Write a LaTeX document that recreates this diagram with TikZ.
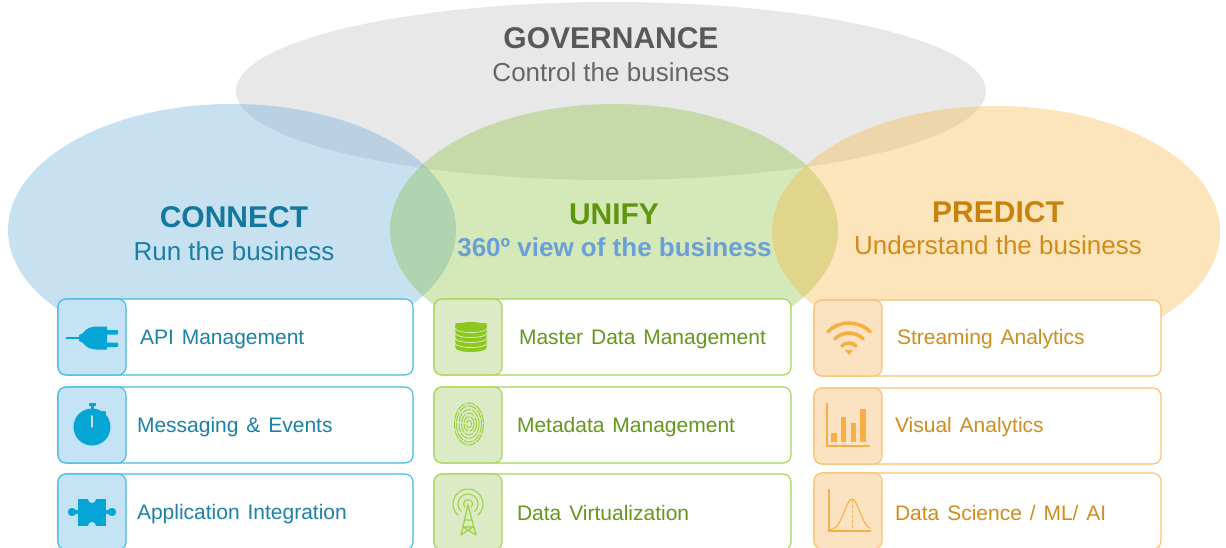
\documentclass[tikz,border=0pt]{standalone}
\usepackage{fontspec}
\setmainfont{Liberation Sans}
\newfontfamily\cardfont[WordSpace=1.35]{Liberation Sans}
\usetikzlibrary{shapes, positioning}

\definecolor{blueline}{HTML}{45B9DF}
\definecolor{bluetab}{HTML}{C4E3F5}
\definecolor{blueicon}{HTML}{05A5D6}
\definecolor{bluetext}{HTML}{1C81A6}
\definecolor{greenline}{HTML}{A5D555}
\definecolor{greentab}{HTML}{DCEBC6}
\definecolor{greenicon}{HTML}{8CC81E}
\definecolor{greentext}{HTML}{64971C}
\definecolor{orangeline}{HTML}{FBC06C}
\definecolor{orangetab}{HTML}{FBE3C2}
\definecolor{orangeicon}{HTML}{F6AE45}
\definecolor{orangetext}{HTML}{CF8D1E}
\definecolor{bubbleblue}{HTML}{58A4D5}
\definecolor{bubblegreen}{HTML}{80B928}
\definecolor{bubbleorange}{HTML}{F8B030}
\definecolor{conntitlecol}{HTML}{12789F}
\definecolor{connsubcol}{HTML}{1A7FA6}
\definecolor{unifytitlecol}{HTML}{5F960F}
\definecolor{unifysubcol}{HTML}{6A9FD8}
\definecolor{predtitlecol}{HTML}{C9820C}
\definecolor{predsubcol}{HTML}{D28B1A}

\tikzset{
  bubble/.style={ellipse, fill=#1, fill opacity=0.33, minimum width=448pt, minimum height=252pt, inner sep=0pt},
  card/.style={draw=#1, fill=white, rounded corners=8pt, line width=1.1pt, minimum height=76pt, inner sep=0pt},
  tab/.style={draw=#1, rounded corners=8pt, line width=1.1pt, minimum width=68pt, minimum height=76pt, inner sep=0pt, anchor=west},
  heading/.style={font=\fontsize{30}{36}\selectfont\bfseries},
  subheading/.style={font=\fontsize{26}{30}\selectfont},
  cardtext/.style={font=\cardfont\fontsize{21}{25}\selectfont, anchor=west, text=#1},
}

\begin{document}
\begin{tikzpicture}[x=1pt,y=-1pt]
  \useasboundingbox (0,0) rectangle (1226,548);
  \clip (0,0) rectangle (1226,548);

  % big ellipses
  \node[bubble={black!27}, minimum width=750pt, minimum height=178pt] (governance) at (611,91) {};
  \node[bubble=bubbleblue] (connect) at (232,230) {};
  \node[bubble=bubblegreen] (unify) at (614,230) {};
  \node[bubble=bubbleorange] (predict) at (996,232) {};

  \node[heading, text=black!65] (govtitle) at (611,38) {GOVERNANCE};
  \node[subheading, text=black!60] (govsub) at (611,72) {Control the business};
  \node[heading, text=conntitlecol] (conntitle) at (234,217) {CONNECT};
  \node[subheading, text=connsubcol] (connsub) at (234,251) {Run the business};
  \node[heading, text=unifytitlecol] (unifytitle) at (614,214) {UNIFY};
  \node[subheading, text=unifysubcol, font=\fontsize{26}{30}\selectfont\bfseries] (unifysub) at (614.5,247) {360º view of the business};
  \node[heading, text=predtitlecol] (predtitle) at (998,212) {PREDICT};
  \node[subheading, text=predsubcol] (predsub) at (998,245) {Understand the business};

  % connect column
  \node[card=blueline, minimum width=355pt] (api) at (235.5,337) {};
  \node[card=blueline, minimum width=355pt] (msg) at (235.5,425) {};
  \node[card=blueline, minimum width=355pt] (app) at (235.5,512) {};
  \node[tab=blueline, fill=bluetab] (apitab) at (api.west) {};
  \node[tab=blueline, fill=bluetab] (msgtab) at (msg.west) {};
  \node[tab=blueline, fill=bluetab] (apptab) at (app.west) {};
  \node[cardtext=bluetext] (apitext) at (136.5,339) {API Management};
  \node[cardtext=bluetext] (msgtext) at (133.5,427) {Messaging \& Events};
  \node[cardtext=bluetext] (apptext) at (133.5,514) {Application Integration};

  % unify column
  \node[card=greenline, minimum width=357pt] (mdm) at (612.5,337) {};
  \node[card=greenline, minimum width=357pt] (meta) at (612.5,425) {};
  \node[card=greenline, minimum width=357pt] (virt) at (612.5,512) {};
  \node[tab=greenline, fill=greentab] (mdmtab) at (mdm.west) {};
  \node[tab=greenline, fill=greentab] (metatab) at (meta.west) {};
  \node[tab=greenline, fill=greentab] (virttab) at (virt.west) {};
  \node[cardtext=greentext] (mdmtext) at (515.5,339) {Master Data Management};
  \node[cardtext=greentext] (metatext) at (513.5,427.5) {Metadata Management};
  \node[cardtext=greentext] (virttext) at (513.5,513) {Data Virtualization};

  % predict column
  \node[card=orangeline, minimum width=347pt] (stream) at (987.5,338) {};
  \node[card=orangeline, minimum width=347pt] (visual) at (987.5,426) {};
  \node[card=orangeline, minimum width=347pt] (science) at (987.5,511) {};
  \node[tab=orangeline, fill=orangetab] (streamtab) at (stream.west) {};
  \node[tab=orangeline, fill=orangetab] (visualtab) at (visual.west) {};
  \node[tab=orangeline, fill=orangetab] (sciencetab) at (science.west) {};
  \node[cardtext=orangetext] (streamtext) at (893.5,339.5) {Streaming Analytics};
  \node[cardtext=orangetext] (visualtext) at (891.5,427.5) {Visual Analytics};
  \node[cardtext=orangetext] (sciencetext) at (891.5,512.5) {Data Science / ML/ AI};

  % plug
  \draw[blueicon, line width=2.8pt] (66,338) -- (82,338);
  \fill[blueicon] (79,335) .. controls (84,335) and (84,327) .. (96,326.5) -- (107,326.5) -- (107,349.5) -- (96,349.5) .. controls (84,349) and (84,341) .. (79,341) -- cycle;
  \fill[blueicon, rounded corners=1pt] (106,330) rectangle (118,334.5);
  \fill[blueicon, rounded corners=1pt] (106,342.5) rectangle (118,347);

  % stopwatch
  \fill[blueicon] (92,427) circle (18.5);
  \fill[blueicon] (89,403) rectangle (96,405.5);
  \fill[blueicon] (91,404) rectangle (94,410);
  \fill[blueicon] (104,413) circle (2.2);
  \draw[bluetab, line width=1.8pt, line cap=round] (92,416) -- (92,427);

  % puzzle piece
  \fill[blueicon] (78,499) rectangle (106,526);
  \fill[blueicon] (72,512) circle (4.2);
  \fill[blueicon] (112,512) circle (4.2);
  \fill[blueicon] (75,510) rectangle (79,514);
  \fill[blueicon] (105,510) rectangle (109,514);
  \fill[bluetab] (92,499) circle (4);
  \fill[bluetab] (92,526) circle (4);

  % database
  \foreach \yy in {348,343,338,333,328}
    \draw[greentab, fill=greenicon, line width=0.8pt] (455,\yy-5) -- (455,\yy) arc[start angle=180, end angle=0, x radius=16, y radius=4.5] -- (487,\yy-5);
  \fill[greenicon] (471,327) ellipse (16 and 5);

  % fingerprint
  \foreach \rr in {2.5,5,7.5,10,12.5,14.5}
    \draw[greenicon!85, line width=1pt, dash pattern=on 9pt off 1.2pt] (469,424) ellipse ({\rr} and {\rr*1.45});

  % tower
  \foreach \rr in {4.5,10,15}
    \draw[greenicon!85, line width=1pt] (468,504) ++(130:\rr) arc[start angle=130, end angle=410, radius=\rr];
  \draw[greenicon!85, line width=1.2pt] (461,535) -- (468,505) -- (476,535) (464.5,520) -- (471.5,520) (463,527) -- (473,527) (461,535) -- (473,527) (476,535) -- (463,527);

  % wifi
  \foreach \rr in {30,20,10}
    \draw[orangeicon, line width=3.6pt, line cap=round] (849,353) ++(-135:\rr) arc[start angle=-135, end angle=-45, radius=\rr];
  \fill[orangeicon] (845,350) -- (853,350) -- (849,355) -- cycle;

  % bars
  \draw[orangeicon, line width=1.2pt] (827,403) -- (827,446) -- (870,446);
  \fill[orangeicon] (831,433) rectangle (837,442);
  \fill[orangeicon] (841,417) rectangle (846,442);
  \fill[orangeicon] (851,423) rectangle (856,442);
  \fill[orangeicon] (860,409) rectangle (866,442);

  % bell curve
  \draw[orangeicon, line width=1.2pt] (829,489) -- (829,531) -- (871,531);
  \draw[orangeicon, line width=1pt, domain=830:870, samples=40, smooth] plot (\x,{530-31*exp(-((\x-852)/7.5)^2/2)});
  \draw[orangeicon, line width=0.7pt, densely dashed] (852,500) -- (852,531);
\end{tikzpicture}
\end{document}
